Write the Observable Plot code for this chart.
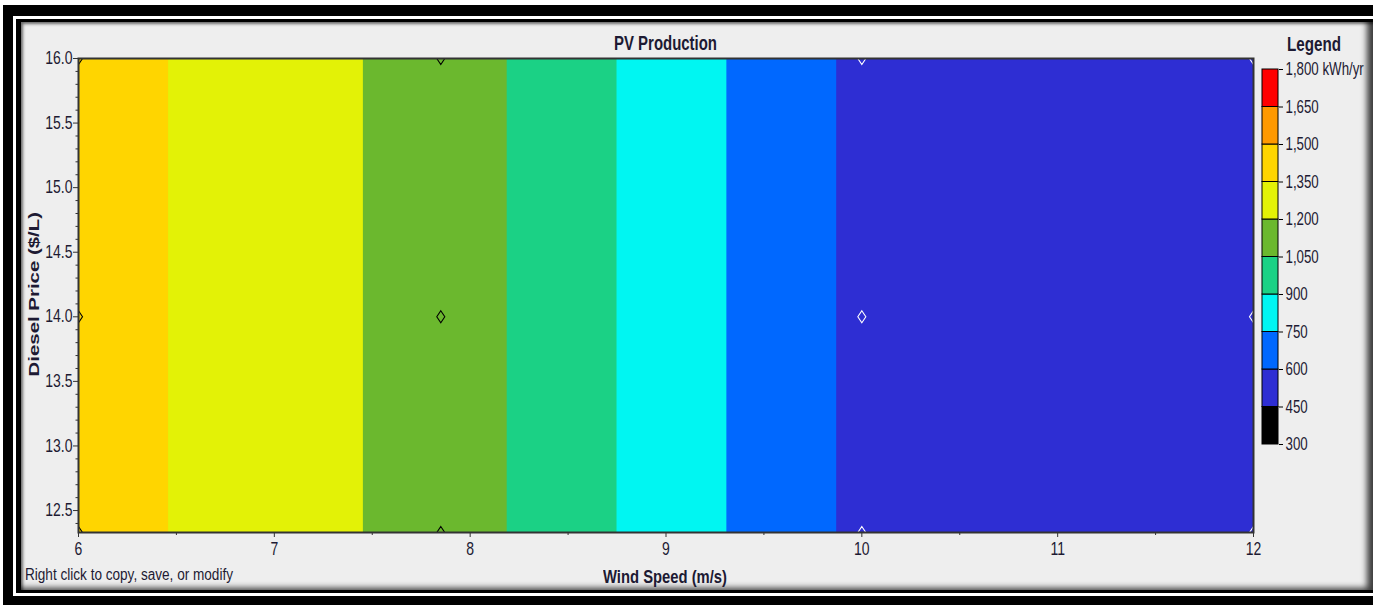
<!DOCTYPE html>
<html><head><meta charset="utf-8">
<script src="https://cdn.jsdelivr.net/npm/d3@7"></script>
<script src="https://cdn.jsdelivr.net/npm/@observablehq/plot@0.6"></script>
<style>
html,body{margin:0;padding:0;background:#fff;width:1373px;height:605px;overflow:hidden;}
.f{position:absolute;}
#outer{left:3px;top:5px;width:1370px;height:600px;background:#000;}
#white{left:13px;top:16px;width:1362px;height:580px;background:#fff;}
#inner{left:16px;top:19px;width:1360px;height:574px;background:#000;}
#panel{left:21px;top:22px;width:1352px;height:568px;background:#eeeeee;
  box-shadow: inset -8px -4px 6px -2px rgba(0,0,0,.75), inset 3px 3px 3px -1px rgba(0,0,0,.55);}
.t{position:absolute;font-family:"Liberation Sans",Arial,sans-serif;color:#1d1a33;white-space:nowrap;line-height:1;}
#chart,#legend{position:absolute;top:0;}
#chart{left:0;}
#legend{left:1250px;}
</style></head>
<body>
<div class="f" id="outer"></div>
<div class="f" id="white"></div>
<div class="f" id="inner"></div>
<div class="f" id="panel"></div>
<div id="chart"></div>
<div id="legend"></div>
<script>
// ---- data ----
const windSpeed = [6, 7.85, 10, 12];            // m/s (sensitivity values)
const dieselPrice = [12.33, 14, 16];            // $/L (sensitivity values)
const pvProduction = [1419, 1140, 565, 510];    // kWh/yr at each wind speed (same for every diesel price)
const thresholds = [300, 450, 600, 750, 900, 1050, 1200, 1350, 1500, 1650, 1800];
const bandColors = ["#000000", "#2e2ed3", "#0068ff", "#00f6f2", "#1bd185", "#6bb82e", "#e3f206", "#ffd500", "#ff9900", "#ff0000"];
const xTicks = [6, 7, 8, 9, 10, 11, 12];
const xMinorTicks = [6.5, 7.5, 8.5, 9.5, 10.5, 11.5];
const yTicks = [12.5, 13.0, 13.5, 14.0, 14.5, 15.0, 15.5, 16.0];
const legendTicks = [300, 450, 600, 750, 900, 1050, 1200, 1350, 1500, 1650, 1800];
const titleText = "PV Production";
const xLabelText = "Wind Speed (m/s)";
const yLabelText = "Diesel Price ($/L)";
const noteText = "Right click to copy, save, or modify";
const legendTitle = "Legend";
const legendUnit = "kWh/yr";

const grid = dieselPrice.flatMap(p => windSpeed.map((w, i) => ({wind: w, diesel: p, pv: pvProduction[i]})));
const yMinorTicks = d3.range(124, 161).map(v => v / 10).filter(v => !yTicks.some(t => Math.abs(t - v) < 1e-6));

const colorScale = {type: "threshold", domain: thresholds.slice(1, -1), range: bandColors};
const diamond = {draw(ctx) { ctx.moveTo(0, -6); ctx.lineTo(4, 0); ctx.lineTo(0, 6); ctx.lineTo(-4, 0); ctx.closePath(); }};
const font = '"Liberation Sans",Arial,sans-serif';

const chart = Plot.plot({
  width: 1373, height: 605,
  marginLeft: 78, marginRight: 120, marginTop: 58, marginBottom: 73,
  style: {background: "transparent", fontFamily: font, fontSize: "17.5px", color: "#1d1a33", overflow: "visible"},
  x: {domain: [6, 12]},
  y: {domain: [12.33, 16]},
  color: colorScale,
  marks: [
    Plot.contour(grid, {x: "wind", y: "diesel", fill: "pv", thresholds: thresholds.slice(1, -1), interpolate: "barycentric", pixelSize: 1, stroke: "none"}),
    Plot.dot(grid.filter(d => d.pv >= 600), {x: "wind", y: "diesel", symbol: diamond, fill: "none", stroke: "black", strokeWidth: 1.1, clip: "frame"}),
    Plot.dot(grid.filter(d => d.pv < 600), {x: "wind", y: "diesel", symbol: diamond, fill: "none", stroke: "white", strokeWidth: 1.1, clip: "frame"}),
    Plot.frame({stroke: "#333", strokeWidth: 2}),
    Plot.axisX({ticks: xTicks, tickSize: 5, tickPadding: 5, tickFormat: d => String(d), label: null, stroke: "#333"}),
    Plot.axisX({ticks: xMinorTicks, tickSize: 3, text: null, label: null, stroke: "#333"}),
    Plot.axisY({ticks: yTicks, tickSize: 5, tickPadding: 1, tickFormat: d3.format(".1f"), label: null, stroke: "#333"}),
    Plot.axisY({ticks: yMinorTicks, tickSize: 2.5, text: null, label: null, stroke: "#333"})
  ]
});
document.getElementById("chart").appendChild(chart);

const bands = thresholds.slice(0, -1).map((lo, i) => ({lo, hi: thresholds[i + 1]}));
const legend = Plot.plot({
  width: 123, height: 605,
  marginLeft: 12, marginRight: 95, marginTop: 69, marginBottom: 161,
  style: {background: "transparent", fontFamily: font, fontSize: "17.5px", color: "#1d1a33", overflow: "visible"},
  x: {domain: [0, 1], axis: null},
  y: {domain: [300, 1800], axis: null},
  color: colorScale,
  marks: [
    Plot.rect(bands, {x1: 0, x2: 1, y1: "lo", y2: "hi", fill: "lo", stroke: "#000", strokeWidth: 1}),
    Plot.axisY({anchor: "right", ticks: legendTicks, tickSize: 4, tickPadding: 3,
      tickFormat: d => d === 1800 ? `1,800 ${legendUnit}` : d3.format(",")(d), label: null, stroke: "#000"})
  ]
});
document.getElementById("legend").appendChild(legend);

// horizontally condensed tick labels (the original screenshot is squeezed horizontally)
function condense(svg, s) {
  svg.querySelectorAll('g[aria-label$="tick label"] text').forEach(el => {
    const t = el.getAttribute("transform") || "";
    const ax = +(el.getAttribute("x") || 0);
    el.setAttribute("transform", `${t} translate(${ax},0) scale(${s},1) translate(${-ax},0)`);
  });
}
condense(chart, 0.8);
condense(legend, 0.76);

// HTML labels, squeezed to the reference widths
function label(text, {cx, left, cy, fs, bold, width}) {
  const el = document.createElement("div");
  el.className = "t";
  el.textContent = text;
  el.style.fontSize = fs + "px";
  if (bold) el.style.fontWeight = "bold";
  document.body.appendChild(el);
  const w = el.getBoundingClientRect().width;
  const x0 = left != null ? left : cx - width / 2;
  el.style.left = x0 + "px";
  el.style.top = (cy - 0.49 * fs) + "px";
  el.style.transformOrigin = "0 50%";
  el.style.transform = `scaleX(${width / w})`;
  return el;
}
label(titleText, {cx: 665, cy: 43, fs: 20, bold: true, width: 103});
label(xLabelText, {cx: 665, cy: 577, fs: 18.5, bold: true, width: 124});
label(noteText, {left: 25, cy: 575, fs: 16, width: 208});
label(legendTitle, {left: 1287, cy: 43.5, fs: 20, bold: true, width: 54});

// rotated y-axis label
(function () {
  const fs = 20.4;
  const el = document.createElement("div");
  el.className = "t";
  el.textContent = yLabelText;
  el.style.fontSize = fs + "px";
  el.style.fontWeight = "bold";
  document.body.appendChild(el);
  const r = el.getBoundingClientRect();
  el.style.left = (34.5 - r.width / 2) + "px";
  el.style.top = (294 - r.height / 2) + "px";
  el.style.transformOrigin = "50% 50%";
  el.style.transform = "rotate(-90deg) scaleY(0.76)";
})();
</script>
</body></html>
